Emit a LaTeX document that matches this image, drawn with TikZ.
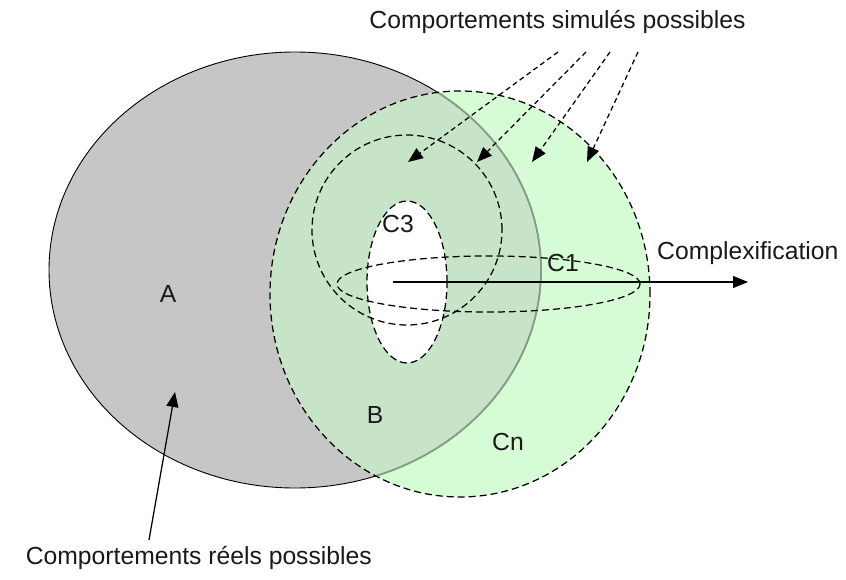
\documentclass[tikz,border=0pt]{standalone}
\usepackage{fontspec}
\setmainfont{Liberation Sans}
\usetikzlibrary{arrows.meta}
\definecolor{grayA}{RGB}{198,198,198}
\definecolor{greenC}{RGB}{214,252,214}
\definecolor{greenB}{RGB}{200,228,200}
\definecolor{edgeB}{RGB}{135,155,135}
\begin{document}
\begin{tikzpicture}[x=1pt,y=-1pt,
  font=\fontsize{24.7}{30}\selectfont,
  lbl/.style={inner sep=0pt, text=black!90},
  dashline/.style={dash pattern=on 7pt off 4pt, line width=1.25pt},
  ptr/.style={-{Triangle[length=15pt,width=12pt]}, line width=1.25pt},
  ptrd/.style={ptr, dash pattern=on 5pt off 3.5pt}]
\useasboundingbox (0,0) rectangle (846,580);
% fills
\path[fill=grayA] (295,270) ellipse [x radius=246pt, y radius=218pt];
\path[fill=greenC] (460,294) ellipse [x radius=190pt, y radius=203pt];
\begin{scope}
  \clip (295,270) ellipse [x radius=246pt, y radius=218pt];
  \fill[greenB] (460,294) ellipse [x radius=190pt, y radius=203pt];
\end{scope}
\draw[line width=0.9pt] (295,270) ellipse [x radius=246pt, y radius=218pt];
\begin{scope}
  \clip (460,294) ellipse [x radius=190pt, y radius=203pt];
  \draw[edgeB, line width=1.8pt] (295,270) ellipse [x radius=246pt, y radius=218pt];
\end{scope}
\fill[white] (407,282) ellipse [x radius=40pt, y radius=81pt];
% dashed outlines
\draw[dashline] (460,294) ellipse [x radius=190pt, y radius=203pt];
\draw[dashline] (407,230) circle [radius=95pt];
\draw[dashline] (407,282) ellipse [x radius=40pt, y radius=81pt];
\draw[dashline] (488.5,284) ellipse [x radius=151.5pt, y radius=28pt];
% labels
\node[lbl, anchor=base] (top) at (557.5,29) {Comportements simulés possibles};
\node[lbl, anchor=base east] (bot) at (372,564) {Comportements réels possibles};
\node[lbl, anchor=base west] (cx) at (657,259) {Complexification};
\node[lbl, anchor=base] (A) at (168,302) {A};
\node[lbl, anchor=base] (B) at (375,423) {B};
\node[lbl, anchor=base west] (Cn) at (492,450) {Cn};
\node[lbl, anchor=base west] (C3) at (382,233) {C3};
\node[lbl, anchor=base west] (C1) at (547,272) {C1};
% arrows
\coordinate (s1) at (558,52); \coordinate (t1) at (408,162);
\coordinate (s2) at (586,52); \coordinate (t2) at (477,162);
\coordinate (s3) at (610,52); \coordinate (t3) at (532,162);
\coordinate (s4) at (638,52); \coordinate (t4) at (587,162);
\draw[ptrd] (s1) -- (t1);
\draw[ptrd] (s2) -- (t2);
\draw[ptrd] (s3) -- (t3);
\draw[ptrd] (s4) -- (t4);
\coordinate (m0) at (393,282); \coordinate (m1) at (748,282);
\draw[ptr] (m0) -- (m1);
\coordinate (b0) at (149,540); \coordinate (b1) at (175,392);
\draw[ptr] (b0) -- (b1);
\end{tikzpicture}
\end{document}
